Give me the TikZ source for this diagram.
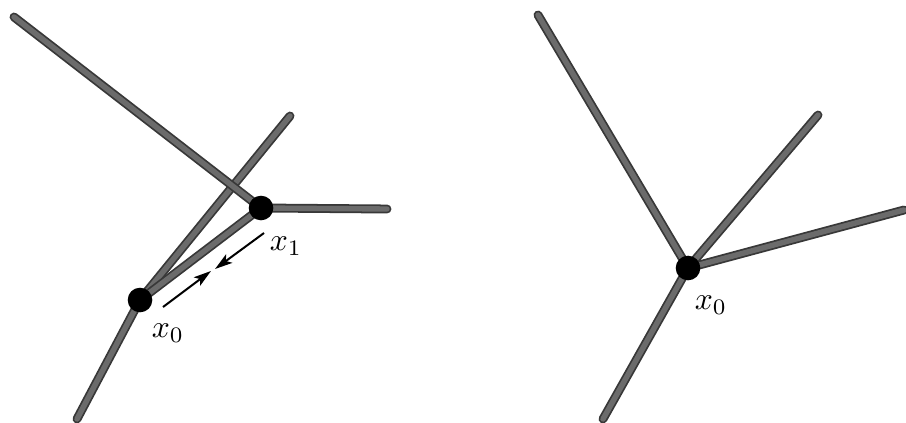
\documentclass[tikz,border=0pt]{standalone}
\usetikzlibrary{arrows.meta}
\tikzset{
    % tube-like tree branches
    branch/.style={draw=black!78,line width=1.5pt,double=black!58,double distance=4.6pt,line cap=round},
    vertex/.style={circle,fill=black,inner sep=0pt,minimum size=21pt},
    vlabel/.style={scale=2.7},
    flow/.style={-{Stealth[length=15pt,width=9pt,inset=3.5pt]},line width=1.7pt}
}

\begin{document}
\begin{tikzpicture}[x=0.03cm,y=-0.03cm]
  \useasboundingbox (0,0) rectangle (906,422);

  % Left tree
  \coordinate (lA) at (14,17);
  \coordinate (lB) at (290,116);
  \coordinate (lC) at (387,209);
  \coordinate (lD) at (77,419);
  \coordinate (x0pos) at (140,300);
  \coordinate (x1pos) at (261,208);

  \draw[branch] (x0pos) -- (lD);
  \draw[branch] (lB) -- (x0pos);
  \draw[branch] (x0pos) -- (x1pos);
  \draw[branch] (x1pos) -- (lC);
  \draw[branch] (lA) -- (x1pos);

  \node[vertex] (x0) at (x0pos) {};
  \node[vertex] (x1) at (x1pos) {};
  \node[vlabel] (x0lbl) at (168,333) {$x_0$};
  \node[vlabel] (x1lbl) at (286,246) {$x_1$};

  % Moving directions
  \coordinate (fA) at (163,307);
  \coordinate (fB) at (211,271);
  \coordinate (gA) at (264,233);
  \coordinate (gB) at (215,269);
  \draw[flow] (fA) -- (fB);
  \draw[flow] (gA) -- (gB);

  % Right tree
  \coordinate (rA) at (538,15);
  \coordinate (rB) at (818,115);
  \coordinate (rC) at (904,210);
  \coordinate (rD) at (603,419);
  \coordinate (y0pos) at (688,268);

  \draw[branch] (rA) -- (y0pos);
  \draw[branch] (rB) -- (y0pos);
  \draw[branch] (y0pos) -- (rC);
  \draw[branch] (y0pos) -- (rD);

  \node[vertex] (y0) at (y0pos) {};
  \node[vlabel] (y0lbl) at (711,305) {$x_0$};
\end{tikzpicture}
\end{document}
